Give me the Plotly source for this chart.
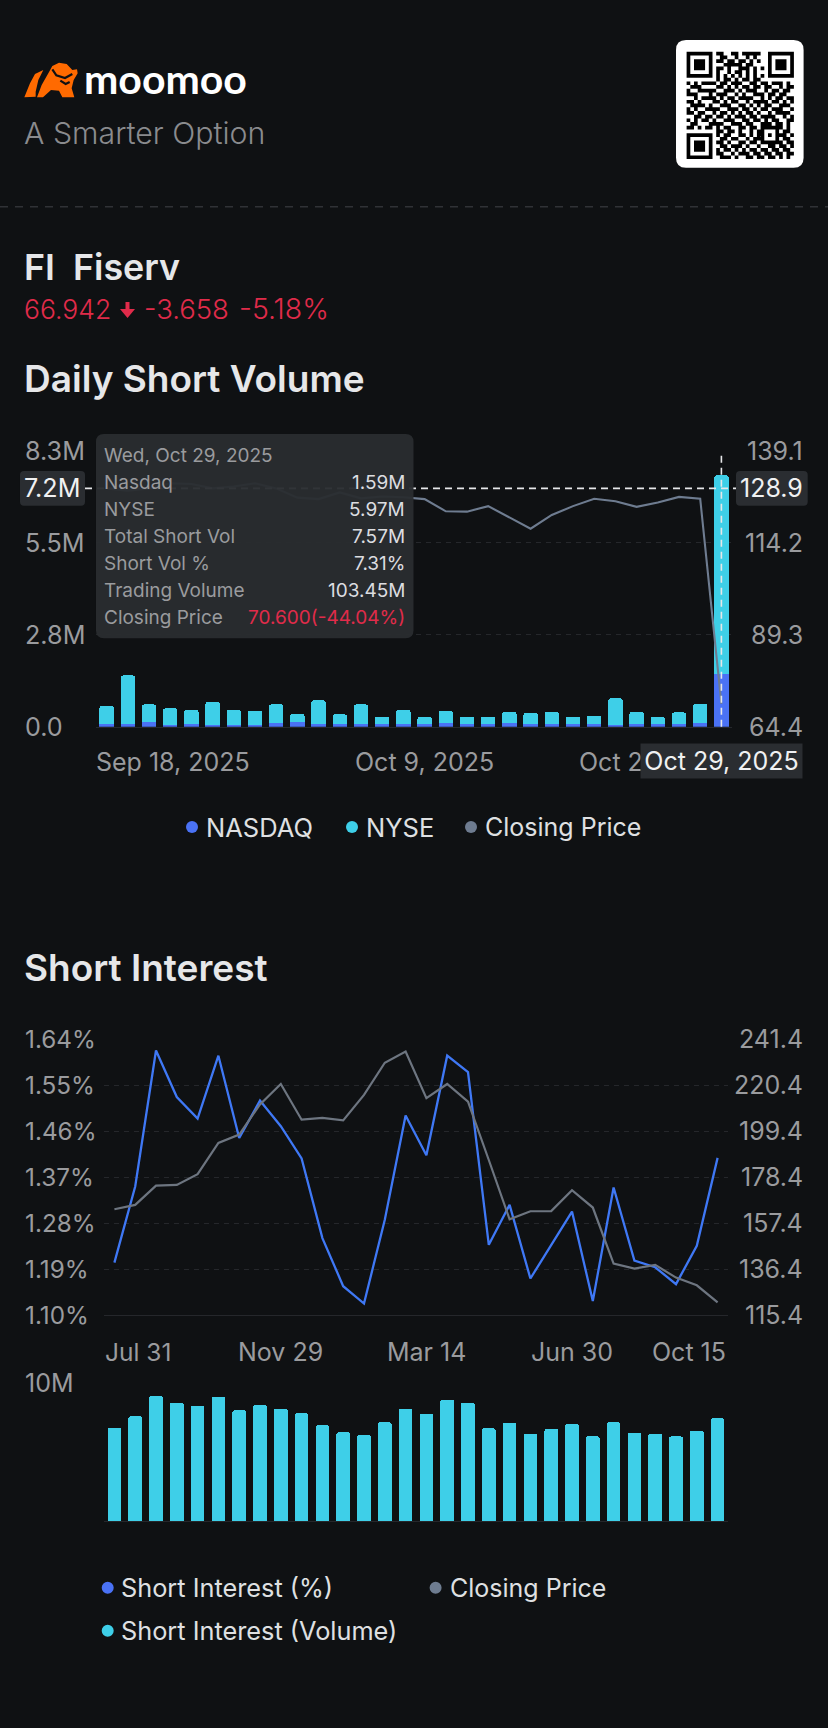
import plotly.graph_objects as go

W, H = 828, 1728
BG = "#0f1113"
CYAN = "#3ecfe8"
BLUE = "#4a72f5"
LINE_BLUE = "#3f78f5"
GREY = "#6e7c90"
GREY2 = "#6d7580"
RED = "#e02b4a"
GRID = "#25272b"
TICK = "#9a9b9e"
FONT = "Inter"

# ---- Daily short volume data
daily_dates = ["Sep 18", "Sep 19", "Sep 22", "Sep 23", "Sep 24", "Sep 25", "Sep 26", "Sep 29", "Sep 30", "Oct 1",
               "Oct 2", "Oct 3", "Oct 6", "Oct 7", "Oct 8", "Oct 9", "Oct 10", "Oct 13", "Oct 14", "Oct 15",
               "Oct 16", "Oct 17", "Oct 20", "Oct 21", "Oct 22", "Oct 23", "Oct 24", "Oct 27", "Oct 28", "Oct 29"]
nasdaq = [0.08, 0.09, 0.14, 0.06, 0.07, 0.06, 0.06, 0.06, 0.11, 0.13, 0.07, 0.09, 0.08, 0.07, 0.07,
          0.07, 0.10, 0.07, 0.07, 0.10, 0.08, 0.07, 0.07, 0.07, 0.06, 0.07, 0.07, 0.07, 0.12, 1.59]
nyse = [0.54, 1.45, 0.53, 0.49, 0.43, 0.69, 0.44, 0.42, 0.56, 0.26, 0.72, 0.28, 0.59, 0.23, 0.43,
        0.22, 0.37, 0.23, 0.23, 0.34, 0.33, 0.37, 0.22, 0.26, 0.79, 0.37, 0.22, 0.36, 0.56, 5.97]
daily_close = [128.9, 128.3, 128.9, 130.3, 130.1, 128.9, 129.4, 130.3, 128.9, 126.4, 126.0, 127.8, 126.2, 126.7, 126.5,
               126.0, 122.7, 122.6, 124.1, 121.1, 118.0, 121.7, 124.1, 126.1, 125.4, 123.9, 125.1, 126.6, 126.1, 70.6]
daily_left_ticks = [0, 2.77, 5.53, 8.3]
daily_left_text = ["0.0", "2.8M", "5.5M", "8.3M"]
daily_right_ticks = [64.4, 89.3, 114.2, 139.1]

# ---- Short interest data
si_dates = ["Jul 31", "Aug 15", "Aug 30", "Sep 13", "Sep 30", "Oct 15", "Oct 31", "Nov 15", "Nov 29", "Dec 13",
            "Dec 31", "Jan 15", "Jan 31", "Feb 14", "Feb 28", "Mar 14", "Mar 31", "Apr 15", "Apr 30", "May 15",
            "May 30", "Jun 13", "Jun 30", "Jul 15", "Jul 31 ", "Aug 15 ", "Aug 29", "Sep 15", "Sep 30 ", "Oct 15 "]
si_pct = [1.203, 1.352, 1.618, 1.527, 1.485, 1.608, 1.447, 1.520, 1.470, 1.407,
          1.251, 1.157, 1.123, 1.287, 1.491, 1.413, 1.608, 1.576, 1.238, 1.316,
          1.172, 1.238, 1.303, 1.128, 1.350, 1.207, 1.194, 1.161, 1.236, 1.408]
si_close = [163.8, 165.8, 174.6, 174.9, 179.8, 194.1, 197.9, 211.7, 221.0, 204.7,
            205.5, 204.4, 216.0, 230.7, 235.8, 214.5, 221.0, 212.9, 186.3, 159.2,
            162.9, 163.0, 172.5, 164.6, 139.0, 136.7, 138.4, 132.6, 129.1, 121.3]
si_vol = [6.76, 7.60, 9.08, 8.60, 8.35, 9.03, 8.04, 8.45, 8.16, 7.82,
          6.95, 6.44, 6.25, 7.17, 8.16, 7.77, 8.81, 8.60, 6.73, 7.12,
          6.34, 6.68, 7.05, 6.15, 7.17, 6.42, 6.34, 6.15, 6.56, 7.46]
si_left_ticks = [1.10, 1.19, 1.28, 1.37, 1.46, 1.55, 1.64]
si_left_text = ["1.10%", "1.19%", "1.28%", "1.37%", "1.46%", "1.55%", "1.64%"]
si_right_ticks = [115.4, 136.4, 157.4, 178.4, 199.4, 220.4, 241.4]

tooltip_rows = [("Nasdaq", "1.59M"), ("NYSE", "5.97M"), ("Total Short Vol", "7.57M"),
                ("Short Vol %", "7.31%"), ("Trading Volume", "103.45M")]

QR = [
    "1111111" "011001101111100" "1111111",
    "1000001" "001100100101000" "1000001",
    "1011101" "011011011010100" "1011101",
    "1011101" "000111110110000" "1011101",
    "1011101" "011010011101010" "1011101",
    "1000001" "010010110101000" "1000001",
    "1111111" "010101010101010" "1111111",
    "00000000" "1011010110110" "00000000",
    "10101111011011100110110111010",
    "01110000110101011011011001011",
    "10011111001110101110010110110",
    "11100010111001010011101101100",
    "00101111010110111100101011011",
    "11010001101011001011110110101",
    "01111010011100110101011001110",
    "10100111100111011010110111001",
    "11011001011010101101001011110",
    "00110110110101110110111100101",
    "10101101001110011011010110011",
    "01100011110011101100111011010",
    "11010110101100110110" "11111" "1010",
    "00000000110110100101" "10001" "0110",
    "11111110" "101100110101" "10101" "1101",
    "10000010" "011011001011" "10001" "0110",
    "10111010" "110100110110" "11111" "1011",
    "10111010" "011011101001" "00110" "1101",
    "10111010" "101101010110" "11011" "0110",
    "10000010" "110010111011" "01101" "1011",
    "11111110" "011101001101" "10110" "1010",
]


def px(x):
    return x / W


def py(y):
    return 1 - y / H


def pt(x, y):
    return f"{px(x):.5f},{py(y):.5f}"


def poly(points):
    return "M" + " L".join(pt(x, y) for x, y in points) + " Z"


def rrect(x0, y0, x1, y1, r):
    return (f"M{pt(x0 + r, y0)} L{pt(x1 - r, y0)} Q{pt(x1, y0)} {pt(x1, y0 + r)} "
            f"L{pt(x1, y1 - r)} Q{pt(x1, y1)} {pt(x1 - r, y1)} L{pt(x0 + r, y1)} "
            f"Q{pt(x0, y1)} {pt(x0, y1 - r)} L{pt(x0, y0 + r)} Q{pt(x0, y0)} {pt(x0 + r, y0)} Z")


def path_shape(path, color, line=None, lw=0):
    return dict(type="path", path=path, xref="paper", yref="paper", fillcolor=color,
                line=dict(color=line or color, width=lw), layer="above")


def dot(x, y, color, r=6):
    return dict(type="circle", xref="paper", yref="paper", x0=px(x - r), x1=px(x + r),
                y0=py(y + r), y1=py(y - r), fillcolor=color, line=dict(width=0), layer="above")


annotations = []


def txt(x, y, text, size, color, anchor="left", weight=400, xref="paper", yref="paper", font=FONT, **kw):
    annotations.append(dict(
        x=px(x) if xref == "paper" else x, y=py(y) if yref == "paper" else y,
        xref=xref, yref=yref, text=text, showarrow=False, xanchor=anchor, yanchor="middle",
        borderpad=0, borderwidth=0, font=dict(family=font, size=size, color=color, weight=weight), **kw))


fig = go.Figure()

# ---- traces
fig.add_bar(x=daily_dates, y=nasdaq, name="NASDAQ", marker=dict(color=BLUE, line_width=0), xaxis="x", yaxis="y")
fig.add_bar(x=daily_dates, y=nyse, name="NYSE", marker=dict(color=CYAN, line_width=0), xaxis="x", yaxis="y")
fig.add_scatter(x=daily_dates, y=daily_close, name="Closing Price", mode="lines",
                line=dict(color=GREY, width=2.1), xaxis="x", yaxis="y2")
fig.add_scatter(x=si_dates, y=si_close, name="Closing Price", mode="lines",
                line=dict(color=GREY2, width=2.2), xaxis="x2", yaxis="y4")
fig.add_scatter(x=si_dates, y=si_pct, name="Short Interest (%)", mode="lines",
                line=dict(color=LINE_BLUE, width=2.3), xaxis="x2", yaxis="y3")
fig.add_bar(x=si_dates, y=si_vol, name="Short Interest (Volume)", marker=dict(color=CYAN, line_width=0),
            xaxis="x3", yaxis="y5", width=0.66)

# ---- axes
C1_L, C1_R, C1_T, C1_B = 96, 732, 450.7, 726.7
C2_L, C2_R, C2_T, C2_B = 104, 728, 1039.3, 1315.3
C3_T, C3_B = 1383.3, 1521


def xaxis(cats, l, r, anchor):
    return dict(type="category", categoryorder="array", categoryarray=cats, range=[-0.5, 29.5],
                domain=[px(l), px(r)], anchor=anchor, showgrid=False, showticklabels=False, ticks="",
                showline=True, linecolor=GRID, linewidth=1, zeroline=False, fixedrange=True)


def yaxis(rng, top, bot, vals=None, side="left", overlay=None, grid=True, anchor="x"):
    d = dict(range=rng, domain=[py(bot), py(top)], side=side, anchor=anchor, tickmode="array",
             tickvals=vals or [], showticklabels=False, ticks="", showline=False, zeroline=False,
             showgrid=grid, gridcolor=GRID, griddash="5px,5px", gridwidth=1, fixedrange=True)
    if overlay:
        d["overlaying"] = overlay
    return d


# ---- shapes
shapes = [
    dict(type="line", xref="paper", yref="paper", x0=0, x1=1, y0=py(206.7), y1=py(206.7),
         line=dict(color="#303236", width=1.5, dash="8px,7px"), layer="below"),
    path_shape(rrect(676, 40, 803.6, 167.7, 10), "#ffffff"),
]
# QR code
MOD = 3.7
QX, QY = 686.6, 51.8
qr_path = ""
for r, row in enumerate(QR):
    for c, v in enumerate(row):
        if v == "1":
            x0, y0 = QX + c * MOD, QY + r * MOD
            qr_path += poly([(x0, y0), (x0 + MOD, y0), (x0 + MOD, y0 + MOD), (x0, y0 + MOD)])
shapes.append(path_shape(qr_path, "#000000"))

# logo (read from zoom: x=15+z/3, y=50+z/3)
def z(points):
    return [(15 + a / 3, 50 + b / 3) for a, b in points]


ORANGE = "#ff6a00"
shapes.append(path_shape(poly(z([(28, 142), (45, 100), (60, 72), (85, 60), (70, 90), (62, 125), (62, 140)])), ORANGE))
shapes.append(path_shape(poly(z([(66, 142), (80, 105), (100, 70), (112, 48), (132, 38), (155, 42), (172, 60), (186, 58),
                                 (188, 70), (176, 90), (170, 115), (178, 142), (142, 142), (132, 122), (108, 120),
                                 (84, 142)])), ORANGE))
shapes.append(path_shape("M" + " L".join(pt(*p) for p in z([(112, 58), (124, 76), (150, 84), (172, 72)])),
                         "rgba(0,0,0,0)", BG, 2.2))
shapes.append(path_shape("M" + " L".join(pt(*p) for p in z([(136, 92), (152, 102), (164, 96)])),
                         "rgba(0,0,0,0)", BG, 2.2))

# crosshair
CROSS = dict(color="#e6e7e9", width=1.6, dash="7px,5px")
shapes.append(dict(type="line", xref="paper", yref="y2", x0=px(85), x1=px(738), y0=daily_close[0], y1=daily_close[0],
                   line=CROSS, layer="above"))
shapes.append(dict(type="line", xref="x", yref="paper", x0=daily_dates[-1], x1=daily_dates[-1],
                   y0=py(C1_B), y1=py(C1_T), line=CROSS, layer="above"))
shapes.append(path_shape(rrect(20, 471, 85, 505.7, 4), "#2a2d31"))
shapes.append(path_shape(rrect(736, 471, 807.7, 505.7, 4), "#2a2d31"))
# tooltip
shapes.append(path_shape(rrect(96, 434, 413.5, 638.3, 8), "rgba(42,45,48,0.96)"))
# legends
shapes += [dot(192, 827, BLUE), dot(352, 827, CYAN), dot(471, 827, GREY),
           dot(107.7, 1587.7, BLUE), dot(435.6, 1587.7, GREY), dot(107.7, 1630.7, CYAN)]
# arrow
shapes.append(path_shape(poly([(125.5, 302), (129.5, 302), (129.5, 309), (135, 309), (127.5, 318), (120, 309), (125.5, 309)]), RED))

# ---- text
txt(84, 78.5, "moomoo", 41, "#ffffff", weight=700, font="Lato")
txt(24, 133, "A Smarter Option", 30.3, "#8a8b8e", weight=300)
txt(24, 267, "FI&#160;&#160;Fiserv", 35.8, "#e6e7e9", weight=600)
txt(24, 309, "66.942", 26.5, RED, weight=300)
txt(144, 309, "-3.658", 27.5, RED, weight=300)
txt(239, 309, "-5.18%", 28.5, RED, weight=300)
txt(24, 378, "Daily Short Volume", 37, "#e6e7e9", weight=600)
txt(24, 967, "Short Interest", 37, "#e6e7e9", weight=600)

for v, t in zip(daily_left_ticks, daily_left_text):
    txt(24.5, v, t, 25.2, TICK, xref="paper", yref="y")
for v in daily_right_ticks:
    txt(802.7, v, f"{v:.1f}", 25, TICK, anchor="right", yref="y2")
txt(24, 488.3, "7.2M", 25.2, "#f0f1f2")
txt(802.7, 488.3, "128.9", 25, "#f0f1f2", anchor="right")

txt(95.5, 761.7, "Sep 18, 2025", 25, TICK)
txt(daily_dates[15], 761.7, "Oct 9, 2025", 25, TICK, anchor="center", xref="x")
txt(578.5, 761.7, "Oct 2", 25, TICK)
annotations.append(dict(x=px(721.2), y=py(761), xref="paper", yref="paper", text="Oct 29, 2025", showarrow=False,
                        xanchor="center", yanchor="middle", width=161, height=34, bgcolor="#2a2d31", borderpad=0,
                        font=dict(family=FONT, size=25, color="#f0f1f2")))

# tooltip text
txt(104, 455.7, "Wed, Oct 29, 2025", 19, TICK)
row_y = [482.7, 509.3, 536.7, 563.7, 590.7]
for (lab, val), y in zip(tooltip_rows, row_y):
    txt(104, y, lab, 19, TICK)
    txt(405, y, val, 19, "#dcdde0", anchor="right")
txt(104, 617.7, "Closing Price", 19, TICK)
txt(405, 617.7, "70.600(-44.04%)", 19, RED, anchor="right")

# legend text
txt(206, 827, "NASDAQ", 25.5, "#dfe0e2")
txt(366, 827, "NYSE", 25.5, "#dfe0e2")
txt(485, 827, "Closing Price", 25, "#dfe0e2")
txt(120.5, 1587.7, "Short Interest (%)", 25.3, "#dfe0e2")
txt(449.5, 1587.7, "Closing Price", 25, "#dfe0e2")
txt(120.5, 1630.7, "Short Interest (Volume)", 25.3, "#dfe0e2")

for v, t in zip(si_left_ticks, si_left_text):
    txt(24.5, v, t, 24.3, TICK, yref="y3")
for v in si_right_ticks:
    txt(802.7, v, f"{v:.1f}", 25, TICK, anchor="right", yref="y4")
txt(104.5, 1351.5, "Jul 31", 24.5, TICK)
txt(si_dates[8], 1351.5, "Nov 29", 25, TICK, anchor="center", xref="x2")
txt(si_dates[15], 1351.5, "Mar 14", 25, TICK, anchor="center", xref="x2")
txt(si_dates[22], 1351.5, "Jun 30", 25, TICK, anchor="center", xref="x2")
txt(726, 1351.5, "Oct 15", 25, TICK, anchor="right")
txt(24.5, 10, "10M", 25, TICK, yref="y5")

fig.update_layout(
    width=W, height=H, margin=dict(l=0, r=0, t=0, b=0, pad=0), autosize=False,
    paper_bgcolor=BG, plot_bgcolor=BG, showlegend=False, barmode="stack", bargap=0.325, barcornerradius=2,
    font=dict(family=FONT), hovermode=False,
    xaxis=xaxis(daily_dates, C1_L, C1_R, "y"),
    yaxis=yaxis([0, 8.3], C1_T, C1_B, [2.77, 5.53, 8.3]),
    yaxis2=yaxis([64.4, 139.1], C1_T, C1_B, side="right", overlay="y", grid=False),
    xaxis2=xaxis(si_dates, C2_L, C2_R, "y3"),
    yaxis3=yaxis([1.10, 1.64], C2_T, C2_B, si_left_ticks[1:], anchor="x2"),
    yaxis4=yaxis([115.4, 241.4], C2_T, C2_B, side="right", overlay="y3", grid=False, anchor="x2"),
    xaxis3=xaxis(si_dates, C2_L, C2_R, "y5"),
    yaxis5=yaxis([0, 10], C3_T, C3_B, [10], anchor="x3"),
    shapes=shapes, annotations=annotations,
)

fig.write_html("out.html", config=dict(displayModeBar=False, staticPlot=True),
               post_script="document.body.style.margin='0';document.body.style.background='#0f1113';")
